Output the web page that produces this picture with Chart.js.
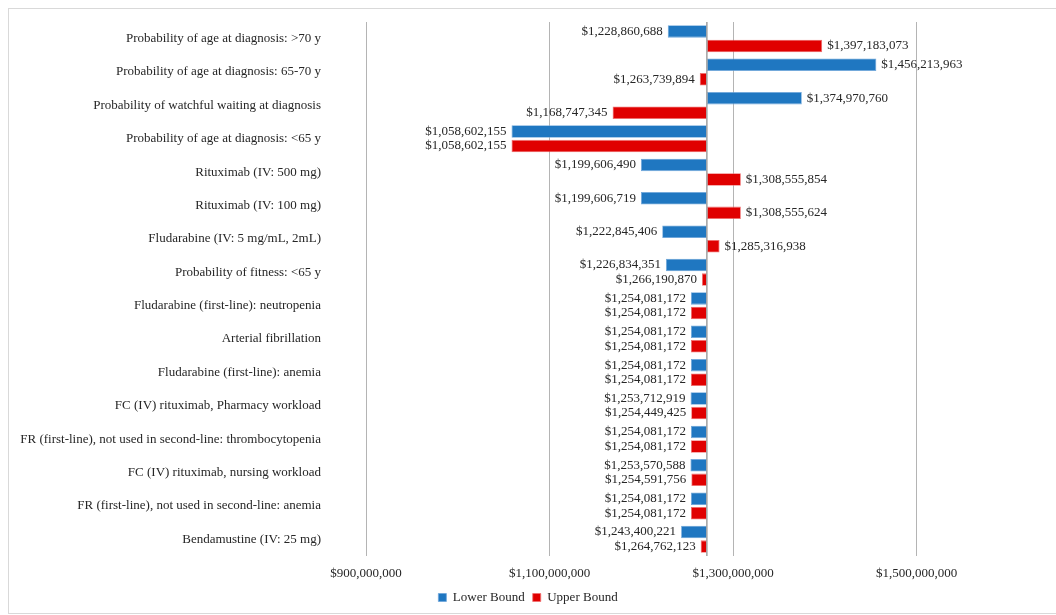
<!DOCTYPE html>
<html>
<head>
<meta charset="utf-8">
<script src="https://cdn.jsdelivr.net/npm/chart.js@4.4.1/dist/chart.umd.min.js"></script>
<style>
html,body{margin:0;padding:0;background:#fff;overflow:hidden;}
#wrap{position:absolute;left:0;top:0;width:1056px;height:615px;}
#frame{position:absolute;left:8px;top:8px;width:1100px;height:604px;border:1px solid #d9d9d9;pointer-events:none;}
</style>
</head>
<body>
<div id="frame"></div>
<div id="wrap"><canvas id="tornado"></canvas></div>
<script>
// tornado data (base case in the middle)
const params = [
"Probability of age at diagnosis: >70 y",
"Probability of age at diagnosis: 65-70 y",
"Probability of watchful waiting at diagnosis",
"Probability of age at diagnosis: <65 y",
"Rituximab (IV: 500 mg)",
"Rituximab (IV: 100 mg)",
"Fludarabine (IV: 5 mg/mL, 2mL)",
"Probability of fitness: <65 y",
"Fludarabine (first-line): neutropenia",
"Arterial fibrillation",
"Fludarabine (first-line): anemia",
"FC (IV) rituximab, Pharmacy workload",
"FR (first-line), not used in second-line: thrombocytopenia",
"FC (IV) rituximab, nursing workload",
"FR (first-line), not used in second-line: anemia",
"Bendamustine (IV: 25 mg)"
];
const lowerBound = [1228860688,1456213963,1374970760,1058602155,1199606490,1199606719,1222845406,1226834351,1254081172,1254081172,1254081172,1253712919,1254081172,1253570588,1254081172,1243400221];
const upperBound = [1397183073,1263739894,1168747345,1058602155,1308555854,1308555624,1285316938,1266190870,1254081172,1254081172,1254081172,1254449425,1254081172,1254591756,1254081172,1264762123];
const baseCase = 1271500000;
const axisTicks = [900000000,1100000000,1300000000,1500000000];

const FONT = "'Liberation Serif','Times New Roman',serif";
const TXT = "#262626";

function money(v){
return "$" + Math.round(v).toLocaleString("en-US");
}

// vertical line at the base case
const baseLine = {
id:"baseLine",
afterDatasetsDraw(chart){
const ctx = chart.ctx;
const x = chart.scales.x.getPixelForValue(baseCase);
ctx.save();
ctx.strokeStyle = "#a0a0a0";
ctx.lineWidth = 1.5;
ctx.beginPath();
ctx.moveTo(x, chart.chartArea.top);
ctx.lineTo(x, chart.chartArea.bottom);
ctx.stroke();
ctx.restore();
}
};

// value labels at bar ends
const barLabels = {
id:"barLabels",
afterDraw(chart){
const ctx = chart.ctx;
const xs = chart.scales.x;
ctx.save();
ctx.font = "13px " + FONT;
ctx.fillStyle = TXT;
ctx.textBaseline = "middle";
chart.data.datasets.forEach((ds, di) => {
const meta = chart.getDatasetMeta(di);
meta.data.forEach((bar, i) => {
const v = ds.data[i];
const px = xs.getPixelForValue(v);
if(v < baseCase){
ctx.textAlign = "right";
ctx.fillText(money(v), px - 5, bar.y);
}else{
ctx.textAlign = "left";
ctx.fillText(money(v), px + 5, bar.y);
}
});
});
ctx.restore();
}
};

new Chart(document.getElementById("tornado"),{
type:"bar",
data:{
labels:params,
datasets:[
{
label:"Lower Bound",
data:lowerBound,
base:baseCase,
backgroundColor:"#1f77c1",
borderColor:"#6fa6da",
borderWidth:0.8,
borderSkipped:false,
categoryPercentage:0.87,
barPercentage:0.86
},
{
label:"Upper Bound",
data:upperBound,
base:baseCase,
backgroundColor:"#e00000",
borderColor:"#f07070",
borderWidth:0.8,
borderSkipped:false,
categoryPercentage:0.87,
barPercentage:0.86
}
]
},
options:{
indexAxis:"y",
responsive:true,
maintainAspectRatio:false,
animation:false,
layout:{padding:{top:22,bottom:1,left:0,right:0}},
plugins:{
legend:{
position:"bottom",
labels:{
boxWidth:8,
boxHeight:8,
padding:8,
color:TXT,
font:{family:FONT,size:13}
}
},
tooltip:{enabled:false}
},
scales:{
x:{
type:"linear",
min:900000000,
max:1652000000,
afterBuildTicks(scale){
scale.ticks = axisTicks.map(v => ({value:v}));
},
afterFit(scale){
scale.height = 27;
},
grid:{color:"#b4b4b4",lineWidth:1,drawTicks:false},
border:{display:false},
ticks:{
padding:10,
color:TXT,
font:{family:FONT,size:13},
callback:(v) => money(v)
}
},
y:{
type:"category",
afterFit(scale){
scale.width = 366;
},
// hidden tick marks give the gap between labels and plot
grid:{display:false,drawTicks:true,tickLength:45},
border:{display:false},
ticks:{
padding:0,
color:TXT,
font:{family:FONT,size:13},
autoSkip:false
}
}
}
},
plugins:[baseLine,barLabels]
});
</script>
</body>
</html>
